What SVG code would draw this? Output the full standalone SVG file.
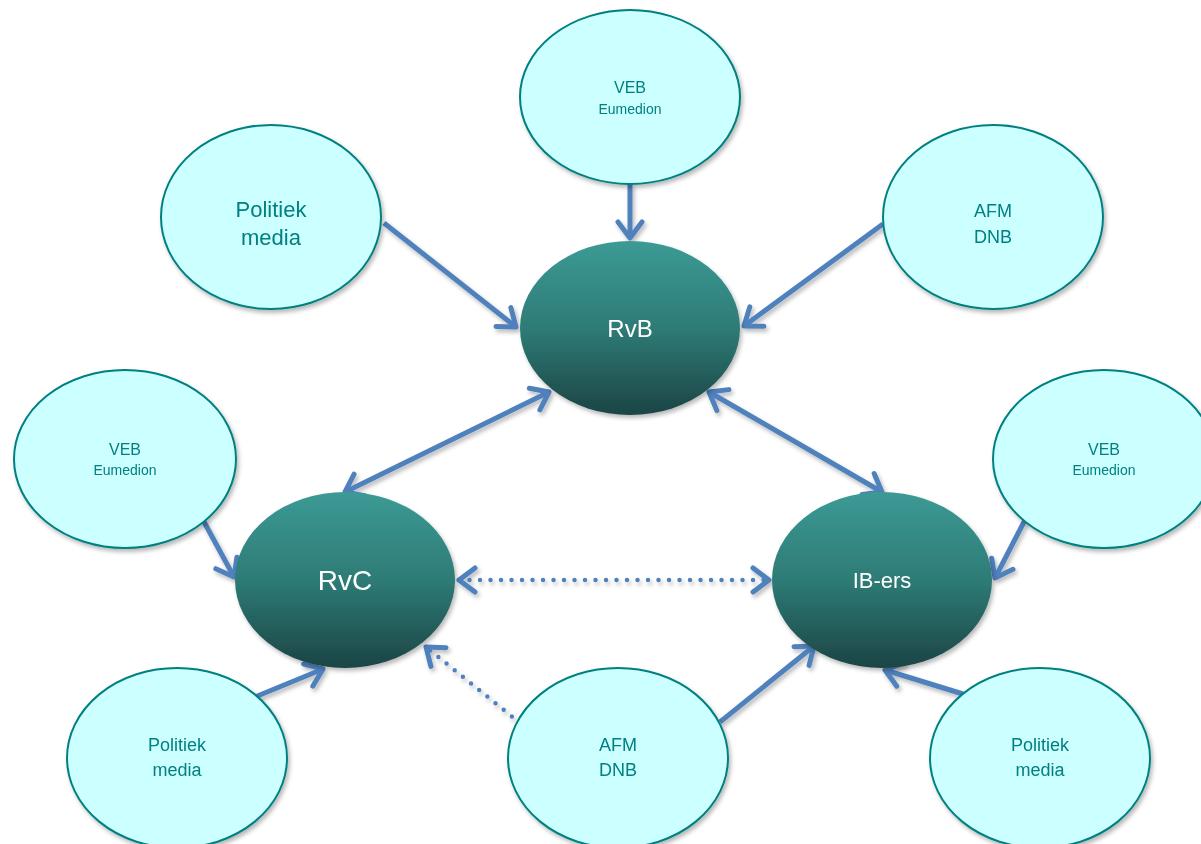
<svg xmlns="http://www.w3.org/2000/svg" width="1201" height="844" viewBox="0 0 1201 844">
<defs>
<linearGradient id="dark" x1="0" y1="0" x2="0" y2="1">
<stop offset="0" stop-color="#3C9A95"/>
<stop offset="0.5" stop-color="#2E7B76"/>
<stop offset="1" stop-color="#1C4444"/>
</linearGradient>
<filter id="sh" x="-20%" y="-20%" width="140%" height="140%">
<feDropShadow dx="2" dy="3" stdDeviation="2" flood-color="#000" flood-opacity="0.28"/>
</filter>
<marker id="ah" markerUnits="userSpaceOnUse" viewBox="-22 -16 26 32" refX="0" refY="0" markerWidth="26" markerHeight="32" orient="auto-start-reverse">
<path d="M-16,-12 L0,0 L-16,12" fill="none" stroke="#4F81BD" stroke-width="5" stroke-linecap="round" stroke-linejoin="round"/>
</marker>
<style>
.lt{fill:#CCFFFF;stroke:#008080;stroke-width:2}
.dk{fill:url(#dark)}
.tl{fill:#008080;font-family:"Liberation Sans",Arial,sans-serif;text-anchor:middle}
.tw{fill:#FFFFFF;font-family:"Liberation Sans",Arial,sans-serif;text-anchor:middle}
.c{stroke:#4F81BD;stroke-width:5;fill:none}
.d{stroke:#4F81BD;stroke-width:4.5;fill:none;stroke-dasharray:0 10.5;stroke-linecap:round}
</style>
</defs>
<rect width="1201" height="844" fill="#FFFFFF"/>
<g id="connectors" filter="url(#sh)">
<line class="c" x1="630" y1="184" x2="630" y2="238" marker-end="url(#ah)"/>
<line class="c" x1="384" y1="223" x2="516" y2="327" marker-end="url(#ah)"/>
<line class="c" x1="883" y1="224" x2="744" y2="326" marker-end="url(#ah)"/>
<line class="c" x1="549" y1="392" x2="345" y2="492" marker-start="url(#ah)" marker-end="url(#ah)"/>
<line class="c" x1="709" y1="392" x2="882" y2="492" marker-start="url(#ah)" marker-end="url(#ah)"/>
<line class="d" x1="459" y1="580" x2="769" y2="580" marker-start="url(#ah)" marker-end="url(#ah)"/>
<line class="c" x1="203" y1="520" x2="234" y2="577" marker-end="url(#ah)"/>
<line class="c" x1="255" y1="697" x2="323" y2="669" marker-end="url(#ah)"/>
<line class="d" x1="520" y1="723" x2="426" y2="647" marker-end="url(#ah)"/>
<line class="c" x1="720" y1="722" x2="814" y2="646" marker-end="url(#ah)"/>
<line class="c" x1="1025" y1="520" x2="995" y2="578" marker-end="url(#ah)"/>
<line class="c" x1="963" y1="694" x2="885" y2="670" marker-end="url(#ah)"/>
</g>
<g id="veb-top" filter="url(#sh)"><ellipse class="lt" cx="630" cy="97" rx="110" ry="87"/><text class="tl" x="630" y="93" font-size="16">VEB</text><text class="tl" x="630" y="114" font-size="14">Eumedion</text></g>
<g id="politiek-tl" filter="url(#sh)"><ellipse class="lt" cx="271" cy="217" rx="110" ry="92"/><text class="tl" x="271" y="217" font-size="22">Politiek</text><text class="tl" x="271" y="245" font-size="22">media</text></g>
<g id="afm-tr" filter="url(#sh)"><ellipse class="lt" cx="993" cy="217" rx="110" ry="92"/><text class="tl" x="993" y="217" font-size="18">AFM</text><text class="tl" x="993" y="243" font-size="18">DNB</text></g>
<g id="veb-left" filter="url(#sh)"><ellipse class="lt" cx="125" cy="459" rx="111" ry="89"/><text class="tl" x="125" y="455" font-size="16">VEB</text><text class="tl" x="125" y="475" font-size="14">Eumedion</text></g>
<g id="veb-right" filter="url(#sh)"><ellipse class="lt" cx="1104" cy="459" rx="111" ry="89"/><text class="tl" x="1104" y="455" font-size="16">VEB</text><text class="tl" x="1104" y="475" font-size="14">Eumedion</text></g>
<g id="politiek-bl" filter="url(#sh)"><ellipse class="lt" cx="177" cy="758" rx="110" ry="90"/><text class="tl" x="177" y="751" font-size="18">Politiek</text><text class="tl" x="177" y="776" font-size="18">media</text></g>
<g id="afm-b" filter="url(#sh)"><ellipse class="lt" cx="618" cy="758" rx="110" ry="90"/><text class="tl" x="618" y="751" font-size="18">AFM</text><text class="tl" x="618" y="776" font-size="18">DNB</text></g>
<g id="politiek-br" filter="url(#sh)"><ellipse class="lt" cx="1040" cy="758" rx="110" ry="90"/><text class="tl" x="1040" y="751" font-size="18">Politiek</text><text class="tl" x="1040" y="776" font-size="18">media</text></g>
<g id="rvb" filter="url(#sh)"><ellipse class="dk" cx="630" cy="328" rx="110" ry="87"/><text class="tw" x="630" y="337" font-size="24">RvB</text></g>
<g id="rvc" filter="url(#sh)"><ellipse class="dk" cx="345" cy="580" rx="110" ry="88"/><text class="tw" x="345" y="590" font-size="28">RvC</text></g>
<g id="ib-ers" filter="url(#sh)"><ellipse class="dk" cx="882" cy="580" rx="110" ry="88"/><text class="tw" x="882" y="588" font-size="22">IB-ers</text></g>
</svg>
